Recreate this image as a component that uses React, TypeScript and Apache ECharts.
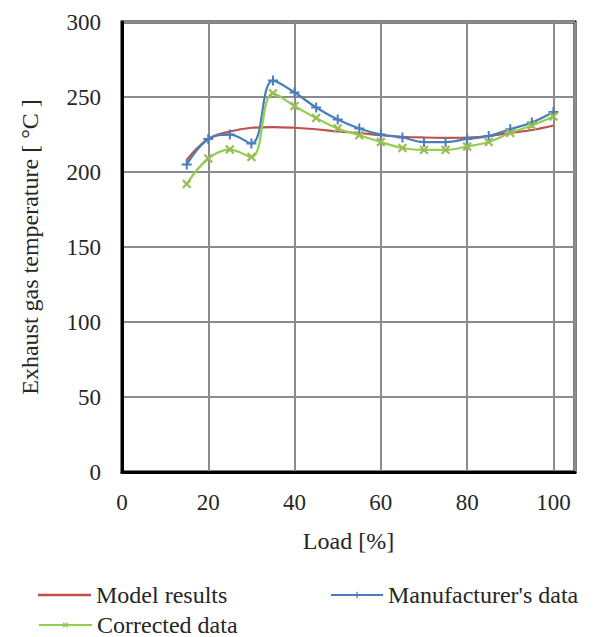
import React, { useEffect, useRef } from "react";
import * as echarts from "echarts";

const loads = [15, 20, 25, 30, 35, 40, 45, 50, 55, 60, 65, 70, 75, 80, 85, 90, 95, 100];
const modelResults = [208, 222, 227, 229.5, 230, 229.5, 228.5, 227, 226, 224.5, 223.5, 223, 222.8, 223, 224, 226, 228, 231];
const manufacturerData = [205, 222, 225, 219, 261, 253, 243, 235, 229, 225, 223, 220, 220, 222, 224, 228.5, 233, 240];
const correctedData = [192, 209, 215, 210, 252.5, 244, 236, 229, 224.5, 220, 216, 214.7, 214.7, 217, 220, 226, 231, 237];

const seriesNames = ["Model results", "Manufacturer's data", "Corrected data"];
const xTicksMax = 105;
const yTicksMax = 300;

const PLUS = "path://M4,0H6V4H10V6H6V10H4V6H0V4H4Z";
const FONT = "'Liberation Serif', 'Times New Roman', serif";
const TXT = "#262626";

export default function App() {
  const ref = useRef<HTMLDivElement>(null);
  useEffect(() => {
    if (!ref.current) return;
    const chart = echarts.init(ref.current, undefined, { renderer: "svg" });
    const pair = (ys: number[]) => loads.map((x, i) => [x, ys[i]]);
    const legendText = { fontFamily: FONT, fontSize: 24, color: TXT };
    chart.setOption({
      animation: false,
      backgroundColor: "#ffffff",
      textStyle: { fontFamily: FONT },
      grid: {
        left: 122,
        right: 27,
        top: 22,
        bottom: 165,
        show: true,
        borderColor: "#000",
        borderWidth: 3,
        backgroundColor: "transparent",
      },
      xAxis: {
        type: "value",
        min: 0,
        max: xTicksMax,
        interval: 20,
        name: "Load [%]",
        nameLocation: "middle",
        nameGap: 57,
        nameTextStyle: { fontFamily: FONT, fontSize: 24, color: TXT },
        axisLine: { show: true, lineStyle: { color: "#000", width: 3 } },
        axisTick: { show: false },
        axisLabel: { fontFamily: FONT, fontSize: 23, color: TXT, margin: 19, showMaxLabel: false },
        splitLine: { show: true, lineStyle: { color: "#8c8c8c", width: 2 } },
      },
      yAxis: {
        type: "value",
        min: 0,
        max: yTicksMax,
        interval: 50,
        name: "Exhaust gas temperature [ °C ]",
        nameLocation: "middle",
        nameGap: 80,
        nameTextStyle: { fontFamily: FONT, fontSize: 24, color: TXT },
        axisLine: { show: true, lineStyle: { color: "#000", width: 3 } },
        axisTick: { show: false },
        axisLabel: { fontFamily: FONT, fontSize: 23, color: TXT, margin: 21 },
        splitLine: { show: true, lineStyle: { color: "#8c8c8c", width: 2 } },
      },
      legend: [
        {
          data: [{ name: seriesNames[0], icon: "rect" }],
          left: 38,
          top: 583,
          padding: 0,
          itemWidth: 53,
          itemHeight: 2.5,
          textStyle: legendText,
        },
        {
          data: [seriesNames[1]],
          left: 330,
          top: 583,
          padding: 0,
          itemWidth: 52,
          itemHeight: 8,
          textStyle: legendText,
        },
        {
          data: [seriesNames[2]],
          left: 38,
          top: 613,
          padding: 0,
          itemWidth: 53,
          itemHeight: 8,
          textStyle: legendText,
        },
      ],
      series: [
        {
          name: seriesNames[0],
          type: "line",
          data: pair(modelResults),
          smooth: 0.4,
          symbol: "none",
          color: "#c0504d",
          lineStyle: { color: "#c0504d", width: 2.25 },
          z: 2,
        },
        {
          name: seriesNames[1],
          type: "line",
          data: pair(manufacturerData),
          smooth: 0.4,
          symbol: PLUS,
          symbolSize: 10,
          color: "#4a7ebb",
          itemStyle: { color: "#4a7ebb" },
          lineStyle: { color: "#4a7ebb", width: 2.25 },
          z: 3,
        },
        {
          name: seriesNames[2],
          type: "line",
          data: pair(correctedData),
          smooth: 0.4,
          symbol: PLUS,
          symbolSize: 11,
          symbolRotate: 45,
          color: "#9bbb59",
          itemStyle: { color: "#9bbb59" },
          lineStyle: { color: "#92d050", width: 2.25 },
          z: 4,
        },
      ],
    });
    return () => chart.dispose();
  }, []);
  return (
    <div
      ref={ref}
      style={{ position: "fixed", left: 0, top: 0, width: 602, height: 637, background: "#fff" }}
    />
  );
}
